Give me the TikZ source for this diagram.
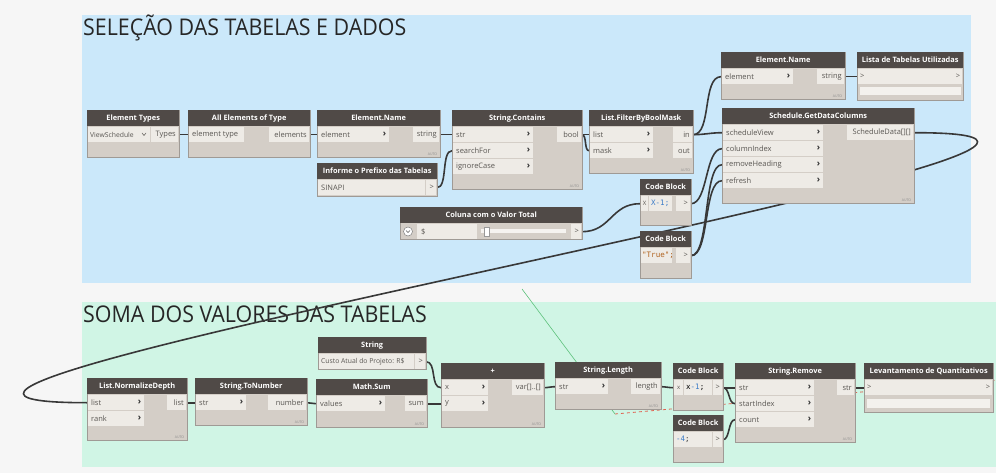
\documentclass[tikz,border=0pt]{standalone}
\usepackage{fontspec}
\setmainfont{Open Sans}
\newfontfamily\codefont{DejaVu Sans Mono}
\usetikzlibrary{arrows.meta}
\definecolor{bgc}{HTML}{F6F6F6}
\definecolor{grpblue}{HTML}{CBE8FA}
\definecolor{grpgreen}{HTML}{D0F5E5}
\definecolor{hdr}{HTML}{504A47}
\definecolor{bodyc}{HTML}{D4CEC7}
\definecolor{portc}{HTML}{EEEBE6}
\definecolor{wirec}{HTML}{383838}
\definecolor{ptxt}{HTML}{5A5753}
\definecolor{cbblue}{HTML}{3C7CC8}
\definecolor{cbbrown}{HTML}{B0621E}
\definecolor{selgreen}{HTML}{5CC17A}
\definecolor{selred}{HTML}{E0614F}
\pgfdeclarelayer{back}
\pgfdeclarelayer{wires}
\pgfsetlayers{back,wires,main}
% node building blocks
\newcommand\dynnode[6]{% name, x, y, width, height, title
  \node[dbody, minimum width=#4pt, minimum height=#5pt] (#1) at (#2,#3) {};
  \node[dhead, minimum width=#4pt] (#1-h) at (#1.north west) {#6};}
\newcommand\inport[5]{% name, x, y, width, label
  \node[pbox, minimum width=#4pt] (#1) at (#2,#3) {};
  \node[ptext, anchor=west] at ([xshift=3pt]#1.west) {#5};
  \node[chev, anchor=east] at ([xshift=-3pt]#1.east) {›};}
\newcommand\plainport[5]{% name, x, y, width, label
  \node[pbox, minimum width=#4pt] (#1) at (#2,#3) {};
  \node[ptext, anchor=west] at ([xshift=3pt]#1.west) {#5};}
\newcommand\outport[5]{% name, right x, y, width, label
  \node[pbox, minimum width=#4pt, anchor=north east] (#1) at (#2,#3) {};
  \node[ptext, anchor=east] at ([xshift=-2pt]#1.east) {#5};}
\newcommand\autotag[1]{%
  \node[autotxt, anchor=south east] at ([xshift=-3pt,yshift=2pt]#1.south east) {AUTO};}
\begin{document}
\begin{tikzpicture}[x=1pt,y=-1pt,
  dbody/.style={fill=bodyc, draw=bodyc!75!black, line width=0.4pt, inner sep=0, anchor=north west},
  dhead/.style={fill=hdr, text=white, inner sep=0, minimum height=16pt, anchor=north west,
    font=\bfseries\fontsize{7.4}{8}\selectfont},
  pbox/.style={fill=portc, inner sep=0, minimum height=15pt, anchor=north west},
  ptext/.style={text=ptxt, inner sep=0, font=\fontsize{7.5}{8}\selectfont},
  smalltext/.style={text=ptxt, inner sep=0, font=\fontsize{6.8}{8}\selectfont},
  chev/.style={text=black!80, inner sep=0, font=\bfseries\fontsize{9}{9}\selectfont},
  autotxt/.style={text=black!45, inner sep=0, font=\fontsize{3.5}{4}\selectfont},
  codetxt/.style={inner sep=0, font=\codefont\fontsize{7.5}{8}\selectfont},
  grptitle/.style={text=black!85, inner sep=0, font=\fontsize{23}{26}\selectfont},
  wire/.style={draw=wirec, line width=1.6pt,
    arrows={Bar[width=5pt,line width=1.3pt]-Bar[width=5pt,line width=1.3pt]}}]
\useasboundingbox (0,0) rectangle (996,473);

\begin{pgfonlayer}{back}
  \fill[bgc] (0,0) rectangle (996,473);
  \fill[grpblue] (82,15) rectangle (971,283);
  \fill[grpgreen] (82,302) rectangle (996,467);
  \node[grptitle, anchor=base west] (t1) at (83,36) {\scalebox{0.93}[1]{SELEÇÃO DAS TABELAS E DADOS}};
  \node[grptitle, anchor=base west] (t2) at (83,322) {\scalebox{0.93}[1]{SOMA DOS VALORES DAS TABELAS}};
  % selection guides
  \coordinate (g1) at (522,289);
  \coordinate (g2) at (615,414);
  \coordinate (g3) at (996,380);
  \draw[selgreen, line width=0.6pt] (g1) -- (g2);
  \draw[selred, line width=0.8pt, dashed] (g2) -- (g3);
\end{pgfonlayer}

% ---------- upper group ----------
\dynnode{et}{87}{110}{92}{47}{Element Types}
\node[pbox, minimum width=62pt] (et-dd) at (88,127) {};
\node[smalltext, anchor=west] at ([xshift=2pt]et-dd.west) {ViewSchedule};
\draw[ptxt, line width=0.5pt] (142,133) -- (144,135.5) -- (146,133);
\outport{et-out}{178}{127}{27}{Types}

\dynnode{ae}{188}{110}{122}{47}{All Elements of Type}
\plainport{ae-in}{189}{127}{55}{element type}
\outport{ae-out}{309}{127}{40}{elements}

\dynnode{en}{317}{110}{123}{47}{Element.Name}
\inport{en-in}{318}{127}{71}{element}
\outport{en-out}{439}{127}{26}{string}
\autotag{en}

\dynnode{pf}{317}{163}{120}{33}{Informe o Prefixo das Tabelas}
\plainport{pf-txt}{318}{180}{107}{SINAPI}
\outport{pf-out}{436}{180}{10}{>}

\dynnode{sc}{452}{110}{130}{79}{String.Contains}
\inport{sc-in1}{453}{127}{80}{str}
\inport{sc-in2}{453}{143}{80}{searchFor}
\inport{sc-in3}{453}{159}{80}{ignoreCase}
\outport{sc-out}{581}{127}{24}{bool}
\autotag{sc}

\dynnode{fb}{589}{110}{104}{63}{List.FilterByBoolMask}
\inport{fb-in1}{590}{127}{63}{list}
\inport{fb-in2}{590}{143}{63}{mask}
\outport{fb-o1}{692}{127}{19}{in}
\outport{fb-o2}{692}{143}{19}{out}
\autotag{fb}

\dynnode{cb1}{640}{179}{51}{46}{Code Block}
\plainport{cb1-x}{641}{196}{7}{}
\node[ptext, font=\fontsize{6}{6}\selectfont] at (cb1-x) {X};
\node[pbox, minimum width=23pt] (cb1-code) at (649,196) {};
\node[codetxt, text=cbblue, anchor=west] at ([xshift=2pt]cb1-code.west) {X-1;};
\outport{cb1-out}{690}{196}{14}{>}

\dynnode{cb2}{640}{231}{51}{47}{Code Block}
\node[pbox, minimum width=31pt] (cb2-code) at (641,248) {};
\node[codetxt, text=cbbrown, anchor=west] at ([xshift=1pt]cb2-code.west) {"True";};
\outport{cb2-out}{690}{248}{14}{>}

\dynnode{cv}{400}{207}{182}{32}{Coluna com o Valor Total}
\node[pbox, minimum width=60pt] (cv-val) at (417,224) {};
\node[ptext, anchor=west] at ([xshift=4pt]cv-val.west) {\$};
\node[circle, fill=white, draw=black!50, line width=0.5pt, minimum size=9pt, inner sep=0] (cv-btn) at (408,231.5) {};
\draw[black!65, line width=0.6pt] (406,230.5) -- (408,232.5) -- (410,230.5);
\fill[portc!60!white] (481,229.5) rectangle (566,233.5);
\node[fill=white, draw=black!40, line width=0.4pt, minimum width=5pt, minimum height=9pt, inner sep=0] (cv-thumb) at (487,231.5) {};
\outport{cv-out}{581}{224}{10}{>}

\dynnode{en2}{721}{52}{124}{47}{Element.Name}
\inport{en2-in}{722}{69}{71}{element}
\outport{en2-out}{844}{69}{27}{string}
\autotag{en2}

\dynnode{lt}{857}{52}{106}{48}{Lista de Tabelas Utilizadas}
\node[pbox, minimum width=104pt] (lt-in) at (858,69) {};
\node[ptext, anchor=west] at ([xshift=2pt]lt-in.west) {>};
\node[ptext, anchor=east] at ([xshift=-2pt]lt-in.east) {>};
\fill[portc!70!white] (860,87) rectangle (961,95);

\dynnode{gd}{722}{108}{192}{95}{Schedule.GetDataColumns}
\inport{gd-in1}{723}{125}{100}{scheduleView}
\inport{gd-in2}{723}{141}{100}{columnIndex}
\inport{gd-in3}{723}{157}{100}{removeHeading}
\inport{gd-in4}{723}{173}{100}{refresh}
\outport{gd-out}{913}{125}{66}{ScheduleData[][]}
\autotag{gd}

% ---------- lower group ----------
\dynnode{nd}{87}{378}{100}{62}{List.NormalizeDepth}
\inport{nd-in1}{88}{395}{56}{list}
\inport{nd-in2}{88}{411}{56}{rank}
\outport{nd-out}{186}{395}{19}{list}
\autotag{nd}

\dynnode{tn}{195}{378}{112}{47}{String.ToNumber}
\inport{tn-in}{196}{395}{50}{str}
\outport{tn-out}{306}{395}{38}{number}
\autotag{tn}

\dynnode{ms}{316}{379}{111}{48}{Math.Sum}
\inport{ms-in}{317}{396}{68}{values}
\outport{ms-out}{426}{396}{21}{sum}
\autotag{ms}

\dynnode{st}{318}{337}{108}{32}{String}
\node[pbox, minimum width=95pt] (st-txt) at (319,354) {};
\node[smalltext, anchor=west] at ([xshift=2pt]st-txt.west) {Custo Atual do Projeto: R\$};
\outport{st-out}{425}{354}{10}{>}

\dynnode{pl}{441}{363}{103}{64}{+}
\inport{pl-in1}{442}{380}{46}{x}
\inport{pl-in2}{442}{396}{46}{y}
\outport{pl-out}{543}{380}{31}{var[]..[]}
\autotag{pl}

\dynnode{sl}{555}{362}{106}{47}{String.Length}
\inport{sl-in}{556}{379}{52}{str}
\outport{sl-out}{660}{379}{29}{length}
\autotag{sl}

\dynnode{cb3}{673}{363}{50}{47}{Code Block}
\plainport{cb3-x}{674}{380}{9}{}
\node[ptext, font=\fontsize{6}{6}\selectfont] at (cb3-x) {x};
\node[pbox, minimum width=28pt] (cb3-code) at (684,380) {};
\node[codetxt, anchor=west] at ([xshift=2pt]cb3-code.west) {x\textcolor{cbblue}{-1};};
\outport{cb3-out}{722}{380}{9}{>}

\dynnode{cb4}{673}{415}{50}{47}{Code Block}
\node[pbox, minimum width=38pt] (cb4-code) at (674,432) {};
\node[codetxt, text=cbblue, anchor=west] at ([xshift=2pt]cb4-code.west) {-4\textcolor{black!80}{;}};
\outport{cb4-out}{722}{432}{9}{>}

\dynnode{sr}{735}{363}{120}{79}{String.Remove}
\inport{sr-in1}{736}{380}{78}{str}
\inport{sr-in2}{736}{396}{78}{startIndex}
\inport{sr-in3}{736}{412}{78}{count}
\outport{sr-out}{854}{380}{17}{str}
\autotag{sr}

\dynnode{lq}{864}{363}{129}{49}{Levantamento de Quantitativos}
\node[pbox, minimum width=127pt] (lq-in) at (865,380) {};
\node[ptext, anchor=west] at ([xshift=2pt]lq-in.west) {>};
\node[ptext, anchor=east] at ([xshift=-2pt]lq-in.east) {>};
\fill[portc!70!white] (867,399) rectangle (990,408);

% ---------- connectors ----------
\begin{pgfonlayer}{wires}
  \draw[wire] (et-out.east) -- (ae-in.west);
  \draw[wire] (ae-out.east) -- (en-in.west);
  \draw[wire] (en-out.east) -- (sc-in1.west);
  \draw[wire] (pf-out.east) .. controls +(12,0) and +(-12,0) .. (sc-in2.west);
  \draw[wire] (sc-out.east) -- (fb-in1.west);
  \draw[wire] (sc-out.east) .. controls +(6,0) and +(-6,0) .. (fb-in2.west);
  \draw[wire] (fb-o1.east) .. controls +(20,0) and +(-20,0) .. (en2-in.west);
  \draw[wire] (fb-o1.east) .. controls +(12,0) and +(-12,0) .. (gd-in1.west);
  \draw[wire] (cv-out.east) .. controls +(30,0) and +(-30,0) .. (cb1-x.west);
  \draw[wire] (cb1-out.east) .. controls +(18,0) and +(-18,0) .. (gd-in2.west);
  \draw[wire] (cb2-out.east) .. controls +(20,0) and +(-20,0) .. (gd-in3.west);
  \draw[wire] (cb2-out.east) .. controls +(20,0) and +(-20,0) .. (gd-in4.west);
  \draw[wire] (en2-out.east) -- (lt-in.west);
  \draw[wire] (gd-out.east) .. controls +(400,0) and +(-400,0) .. (nd-in1.west);
  \draw[wire] (nd-out.east) -- (tn-in.west);
  \draw[wire] (tn-out.east) .. controls +(5,0) and +(-5,0) .. (ms-in.west);
  \draw[wire] (ms-out.east) -- (pl-in2.west);
  \draw[wire] (st-out.east) .. controls +(12,0) and +(-12,0) .. (pl-in1.west);
  \draw[wire] (pl-out.east) .. controls +(5,0) and +(-5,0) .. (sl-in.west);
  \draw[wire] (sl-out.east) .. controls +(5,0) and +(-5,0) .. (cb3-x.west);
  \draw[wire] (cb3-out.east) -- (sr-in1.west);
  \draw[wire] (cb3-out.east) .. controls +(8,0) and +(-8,0) .. (sr-in2.west);
  \draw[wire] (cb4-out.east) .. controls +(8,0) and +(-8,0) .. (sr-in3.west);
  \draw[wire] (sr-out.east) -- (lq-in.west);
\end{pgfonlayer}
\end{tikzpicture}
\end{document}
